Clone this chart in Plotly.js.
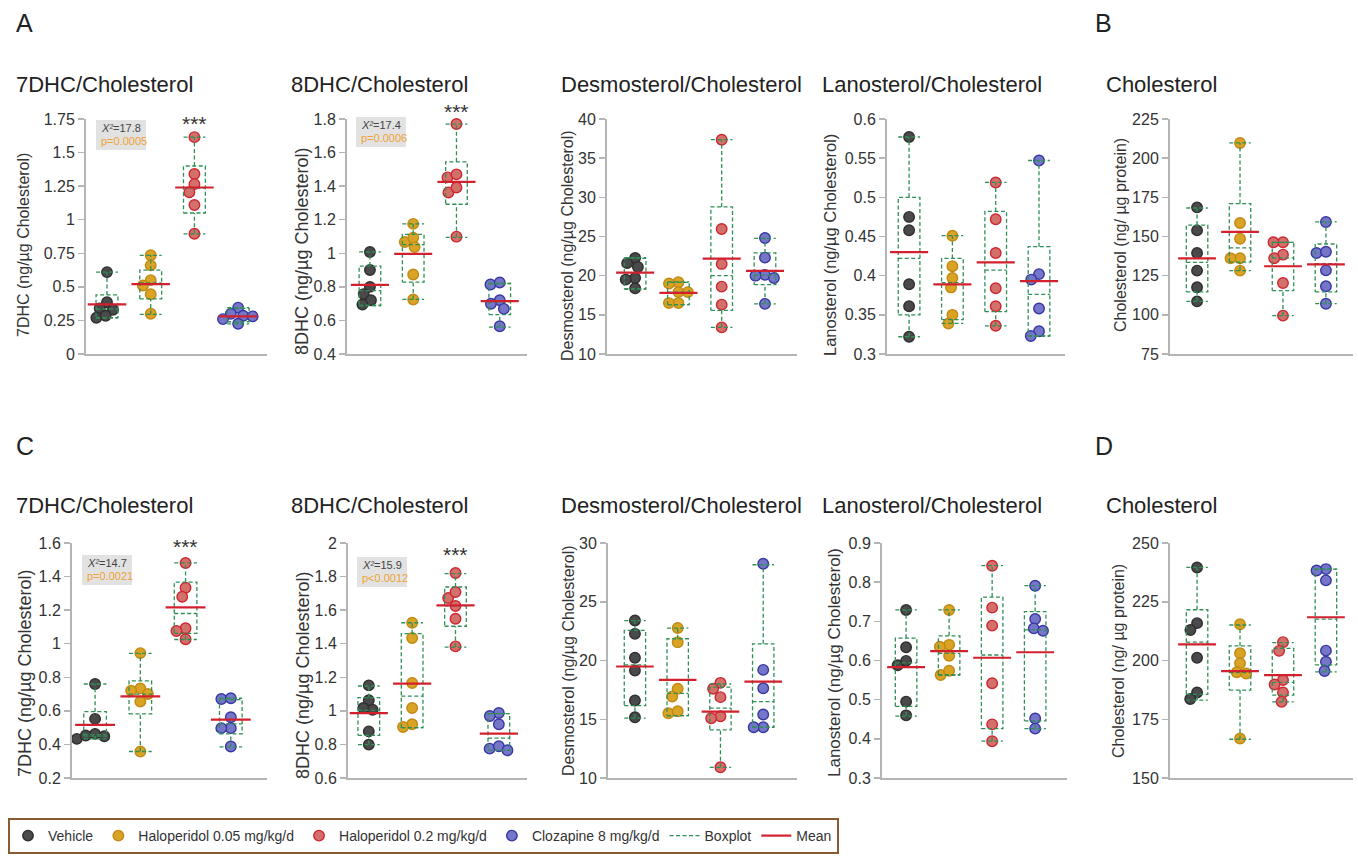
<!DOCTYPE html>
<html><head><meta charset="utf-8">
<script src="https://cdn.plot.ly/plotly-3.0.1.min.js"></script>
<style>html,body{margin:0;padding:0;background:#fff}#chart{width:1358px;height:863px}</style>
</head><body><div id="chart"></div>
<script>
// ---------- categories ----------
const groups = ["Vehicle", "Haloperidol 0.05 mg/kg/d", "Haloperidol 0.2 mg/kg/d", "Clozapine 8 mg/kg/d"];
const panelTitles = ["7DHC/Cholesterol", "8DHC/Cholesterol", "Desmosterol/Cholesterol", "Lanosterol/Cholesterol", "Cholesterol",
                     "7DHC/Cholesterol", "8DHC/Cholesterol", "Desmosterol/Cholesterol", "Lanosterol/Cholesterol", "Cholesterol"];
const yTitles = ["7DHC (ng/µg Cholesterol)", "8DHC (ng/µg Cholesterol)", "Desmosterol (ng/µg Cholesterol)", "Lanosterol (ng/µg Cholesterol)", "Cholesterol (ng/ µg protein)",
                 "7DHC (ng/µg Cholesterol)", "8DHC (ng/µg Cholesterol)", "Desmosterol (ng/µg Cholesterol)", "Lanosterol (ng/µg Cholesterol)", "Cholesterol (ng/ µg protein)"];
const panelLetters = ["A", "B", "C", "D"];
const statChi = ["=17.8", "=17.4", "=14.7", "=15.9"];
const statP = ["p=0.0005", "p=0.0006", "p=0.0021", "p<0.0012"];
const starText = ["***", "***", "***", "***"];

// ---------- panel A: 7DHC ----------
const A1_points = [[0.61, 0.385, 0.33, 0.34, 0.27, 0.285], [0.735, 0.66, 0.55, 0.51, 0.445, 0.30], [1.615, 1.34, 1.265, 1.205, 1.11, 0.895], [0.345, 0.30, 0.285, 0.28, 0.26, 0.225]];
const A1_mean = [0.37, 0.52, 1.24, 0.28];
const A1_q1 = [0.27, 0.41, 1.05, 0.24];
const A1_med = [0.335, 0.53, 1.235, 0.28];
const A1_q3 = [0.44, 0.625, 1.40, 0.34];
const A1_lo = [0.27, 0.295, 0.895, 0.225];
const A1_hi = [0.61, 0.735, 1.615, 0.345];
const A1_ticks = [0, 0.25, 0.5, 0.75, 1, 1.25, 1.5, 1.75];
const A1_labels = ["0", "0.25", "0.5", "0.75", "1", "1.25", "1.5", "1.75"];
// ---------- panel A: 8DHC ----------
const A2_points = [[1.008, 0.90, 0.80, 0.757, 0.72, 0.695], [1.175, 1.067, 1.093, 1.037, 0.874, 0.725], [1.77, 1.452, 1.47, 1.362, 1.392, 1.099], [0.814, 0.826, 0.72, 0.699, 0.669, 0.565]];
const A2_mean = [0.812, 0.997, 1.426, 0.715];
const A2_q1 = [0.689, 0.828, 1.292, 0.635];
const A2_med = [0.778, 1.052, 1.422, 0.71];
const A2_q3 = [0.924, 1.113, 1.545, 0.82];
const A2_lo = [0.689, 0.725, 1.095, 0.56];
const A2_hi = [1.008, 1.175, 1.77, 0.82];
const A2_ticks = [0.4, 0.6, 0.8, 1, 1.2, 1.4, 1.6, 1.8];
const A2_labels = ["0.4", "0.6", "0.8", "1", "1.2", "1.4", "1.6", "1.8"];
// ---------- panel A: Desmosterol ----------
const A3_points = [[22.26, 21.6, 21.1, 19.7, 19.5, 18.4], [19.15, 19.0, 17.9, 17.9, 16.5, 16.5], [37.36, 25.96, 21.5, 18.6, 16.3, 13.4], [24.8, 22.3, 20.1, 20.0, 19.7, 16.4]];
const A3_mean = [20.4, 17.8, 22.17, 20.6];
const A3_q1 = [18.3, 16.3, 15.57, 18.85];
const A3_med = [20.4, 17.9, 20.0, 20.05];
const A3_q3 = [22.2, 19.15, 28.77, 22.9];
const A3_lo = [18.3, 16.3, 13.4, 16.4];
const A3_hi = [22.3, 19.2, 37.36, 24.75];
const A3_ticks = [10, 15, 20, 25, 30, 35, 40];
const A3_labels = ["10", "15", "20", "25", "30", "35", "40"];
// ---------- panel A: Lanosterol ----------
const A4_points = [[0.577, 0.475, 0.458, 0.389, 0.361, 0.322], [0.451, 0.412, 0.397, 0.385, 0.350, 0.339], [0.519, 0.472, 0.429, 0.384, 0.361, 0.336], [0.547, 0.402, 0.395, 0.358, 0.329, 0.323]];
const A4_mean = [0.430, 0.389, 0.417, 0.393];
const A4_q1 = [0.35, 0.344, 0.354, 0.323];
const A4_med = [0.422, 0.391, 0.407, 0.376];
const A4_q3 = [0.50, 0.422, 0.482, 0.437];
const A4_lo = [0.322, 0.339, 0.336, 0.323];
const A4_hi = [0.577, 0.451, 0.519, 0.547];
const A4_ticks = [0.3, 0.35, 0.4, 0.45, 0.5, 0.55, 0.6];
const A4_labels = ["0.3", "0.35", "0.4", "0.45", "0.5", "0.55", "0.6"];
// ---------- panel B: Cholesterol ----------
const A5_points = [[168.6, 153.9, 139.5, 128.2, 117.6, 108.6], [209.7, 158.6, 148.6, 136.1, 136.1, 128.2], [146.3, 146.3, 138.4, 136.1, 120.3, 99.5], [159.3, 139.5, 140.3, 128.4, 118.2, 107.1]];
const A5_mean = [136.1, 152.9, 131.0, 132.2];
const A5_q1 = [114.6, 133.7, 115.4, 114.6];
const A5_med = [133.5, 142.7, 136.3, 132.7];
const A5_q3 = [157.3, 171.0, 146.3, 145.2];
const A5_lo = [108.6, 128.2, 99.5, 107.1];
const A5_hi = [168.2, 209.7, 146.3, 159.3];
const A5_ticks = [75, 100, 125, 150, 175, 200, 225];
const A5_labels = ["75", "100", "125", "150", "175", "200", "225"];
// ---------- panel C: 7DHC ----------
const C1_points = [[0.76, 0.552, 0.463, 0.433, 0.453, 0.449], [0.944, 0.734, 0.72, 0.70, 0.655, 0.358], [1.481, 1.333, 1.28, 1.092, 1.076, 1.027], [0.671, 0.675, 0.562, 0.497, 0.497, 0.388]];
const C1_mean = [0.516, 0.686, 1.216, 0.548];
const C1_q1 = [0.45, 0.582, 1.062, 0.463];
const C1_med = [0.458, 0.70, 1.18, 0.522];
const C1_q3 = [0.595, 0.779, 1.367, 0.667];
const C1_lo = [0.433, 0.358, 1.025, 0.385];
const C1_hi = [0.76, 0.942, 1.481, 0.675];
const C1_ticks = [0.2, 0.4, 0.6, 0.8, 1, 1.2, 1.4, 1.6];
const C1_labels = ["0.2", "0.4", "0.6", "0.8", "1", "1.2", "1.4", "1.6"];
// ---------- panel C: 8DHC ----------
const C2_points = [[1.152, 1.063, 1.007, 1.017, 0.878, 0.799], [1.525, 1.434, 1.166, 1.017, 0.92, 0.904], [1.821, 1.672, 1.708, 1.625, 1.549, 1.384], [0.987, 0.969, 0.92, 0.775, 0.789, 0.765]];
const C2_mean = [0.987, 1.162, 1.629, 0.864];
const C2_q1 = [0.854, 0.90, 1.504, 0.765];
const C2_med = [1.003, 1.088, 1.625, 0.838];
const C2_q3 = [1.079, 1.46, 1.738, 0.983];
const C2_lo = [0.799, 0.90, 1.38, 0.765];
const C2_hi = [1.148, 1.525, 1.817, 0.983];
const C2_ticks = [0.6, 0.8, 1, 1.2, 1.4, 1.6, 1.8, 2];
const C2_labels = ["0.6", "0.8", "1", "1.2", "1.4", "1.6", "1.8", "2"];
// ---------- panel C: Desmosterol ----------
const C3_points = [[23.4, 22.27, 20.23, 19.15, 16.6, 15.17], [22.76, 21.56, 17.59, 16.93, 15.51, 15.68], [18.1, 17.59, 16.88, 15.26, 15.09, 10.91], [28.24, 19.2, 17.64, 15.4, 14.32, 14.32]];
const C3_mean = [19.49, 18.35, 15.65, 18.21];
const C3_q1 = [16.16, 15.31, 14.09, 14.32];
const C3_med = [19.63, 17.2, 15.94, 16.5];
const C3_q3 = [22.56, 21.85, 17.73, 21.42];
const C3_lo = [15.1, 15.31, 10.91, 14.32];
const C3_hi = [23.4, 22.76, 18.0, 28.15];
const C3_ticks = [10, 15, 20, 25, 30];
const C3_labels = ["10", "15", "20", "25", "30"];
// ---------- panel C: Lanosterol ----------
const C4_points = [[0.729, 0.634, 0.588, 0.599, 0.495, 0.46], [0.729, 0.64, 0.635, 0.612, 0.563, 0.574], [0.842, 0.735, 0.689, 0.542, 0.437, 0.394], [0.791, 0.706, 0.682, 0.676, 0.452, 0.426]];
const C4_mean = [0.583, 0.624, 0.607, 0.621];
const C4_q1 = [0.483, 0.563, 0.426, 0.446];
const C4_med = [0.594, 0.618, 0.614, 0.678];
const C4_q3 = [0.657, 0.663, 0.762, 0.725];
const C4_lo = [0.458, 0.563, 0.394, 0.426];
const C4_hi = [0.729, 0.729, 0.842, 0.791];
const C4_ticks = [0.3, 0.4, 0.5, 0.6, 0.7, 0.8, 0.9];
const C4_labels = ["0.3", "0.4", "0.5", "0.6", "0.7", "0.8", "0.9"];
// ---------- panel D: Cholesterol ----------
const C5_points = [[239.6, 215.9, 213.0, 201.2, 186.4, 183.6], [215.4, 203.1, 198.8, 195.0, 194.5, 166.8], [207.8, 204.1, 191.7, 189.8, 186.4, 182.4], [238.9, 238.3, 234.1, 204.2, 199.5, 195.5]];
const C5_mean = [206.9, 195.5, 193.8, 218.4];
const C5_q1 = [185.6, 187.4, 185.3, 198.1];
const C5_med = [207.8, 194.8, 190.7, 217.6];
const C5_q3 = [221.6, 206.2, 205.2, 238.9];
const C5_lo = [183.1, 166.5, 182.4, 195.2];
const C5_hi = [239.6, 215.1, 207.6, 238.9];
const C5_ticks = [150, 175, 200, 225, 250];
const C5_labels = ["150", "175", "200", "225", "250"];

// ---------- layout geometry (pixels) ----------
const W = 1358, H = 863;
const FONT = "Liberation Sans, Arial, Helvetica, sans-serif";
const rowsPx = [[119, 354], [543, 778]];
const xDomPx = [[86, 267], [347, 527], [607, 797], [887, 1065], [1170, 1353],
                [72, 267], [348, 527], [608, 797], [882, 1067], [1170, 1353]];
const xRanges = [[-0.48, 3.66], [-0.53, 3.63], [-0.65, 3.74], [-0.51, 3.6], [-0.63, 3.63],
                 [-0.51, 3.8], [-0.48, 3.65], [-0.63, 3.79], [-0.56, 3.74], [-0.63, 3.63]];
const titlePos = [[14, 85], [289, 85], [559, 85], [820, 85], [1104, 85], [14, 505], [289, 505], [559, 505], [820, 505], [1104, 505]];
const yTitlePos = [[24, 245, 16], [302, 252, 18], [568, 246, 16], [830, 245, 16.5], [1120, 235, 16],
                   [25, 674, 18], [303, 676, 18], [568, 661, 16], [834, 663, 17], [1118, 661, 16]];

const panels = [
  [A1_points, A1_mean, A1_q1, A1_med, A1_q3, A1_lo, A1_hi, A1_ticks, A1_labels],
  [A2_points, A2_mean, A2_q1, A2_med, A2_q3, A2_lo, A2_hi, A2_ticks, A2_labels],
  [A3_points, A3_mean, A3_q1, A3_med, A3_q3, A3_lo, A3_hi, A3_ticks, A3_labels],
  [A4_points, A4_mean, A4_q1, A4_med, A4_q3, A4_lo, A4_hi, A4_ticks, A4_labels],
  [A5_points, A5_mean, A5_q1, A5_med, A5_q3, A5_lo, A5_hi, A5_ticks, A5_labels],
  [C1_points, C1_mean, C1_q1, C1_med, C1_q3, C1_lo, C1_hi, C1_ticks, C1_labels],
  [C2_points, C2_mean, C2_q1, C2_med, C2_q3, C2_lo, C2_hi, C2_ticks, C2_labels],
  [C3_points, C3_mean, C3_q1, C3_med, C3_q3, C3_lo, C3_hi, C3_ticks, C3_labels],
  [C4_points, C4_mean, C4_q1, C4_med, C4_q3, C4_lo, C4_hi, C4_ticks, C4_labels],
  [C5_points, C5_mean, C5_q1, C5_med, C5_q3, C5_lo, C5_hi, C5_ticks, C5_labels]
];

const fillCol = ["#4a4a4a", "#d9a326", "#d2716b", "#7676c9"];
const edgeCol = ["#2f2f2f", "#c08a14", "#cf2630", "#3737a3"];
const boxCol = "#2f8f55";
const meanCol = "#d3202f";
const axisCol = "#b4b4b4";

// simple beeswarm: computed horizontal offsets (pixels) to avoid overlap
function swarm(vals, pxPerY, D) {
  const order = vals.map((v, i) => i).sort((a, b) => vals[b] - vals[a]);
  const placed = [], xs = new Array(vals.length).fill(0);
  for (const i of order) {
    const y = vals[i] * pxPerY;
    const iv = [];
    for (const p of placed) {
      const dy = Math.abs(p.y - y);
      if (dy < D) { const dx = Math.sqrt(D * D - dy * dy); iv.push([p.x - dx, p.x + dx]); }
    }
    const cands = [0];
    iv.forEach(r => cands.push(r[0], r[1]));
    cands.sort((a, b) => Math.abs(a) - Math.abs(b) || a - b);
    let x = 0;
    for (const c of cands) { if (iv.every(r => c <= r[0] + 1e-6 || c >= r[1] - 1e-6)) { x = c; break; } }
    placed.push({ x, y }); xs[i] = x;
  }
  return xs;
}

const traces = [];
const layout = {
  width: W, height: H, margin: { l: 0, r: 0, t: 0, b: 0 },
  paper_bgcolor: "#fff", plot_bgcolor: "rgba(0,0,0,0)",
  font: { family: FONT, color: "#333" },
  showlegend: true, hovermode: false,
  legend: {
    orientation: "h", x: 8 / W, y: 1 - 818 / H, xanchor: "left", yanchor: "top",
    bordercolor: "#8a5a30", borderwidth: 2, bgcolor: "#fff",
    font: { size: 14, color: "#333", family: FONT }, itemwidth: 30, tracegroupgap: 0
  },
  annotations: [], shapes: []
};

panels.forEach((P, k) => {
  const [pts, mean, q1, med, q3, lo, hi, ticks, labels] = P;
  const sfx = k === 0 ? "" : String(k + 1);
  const xa = "x" + sfx, ya = "y" + sfx;
  const row = k < 5 ? 0 : 1;
  const [top, bot] = rowsPx[row];
  const [L, R] = xDomPx[k];
  const xr = xRanges[k];
  const yr = [ticks[0], ticks[ticks.length - 1]];
  const pxPerX = (R - L) / (xr[1] - xr[0]);
  const pxPerY = (bot - top) / (yr[1] - yr[0]);

  layout["xaxis" + sfx] = {
    domain: [L / W, R / W], range: xr, anchor: ya, showline: true, linecolor: axisCol, linewidth: 2,
    showticklabels: false, ticks: "", showgrid: false, zeroline: false, fixedrange: true
  };
  layout["yaxis" + sfx] = {
    domain: [1 - bot / H, 1 - top / H], range: yr, anchor: xa, showline: true, linecolor: axisCol, linewidth: 2,
    tickmode: "array", tickvals: ticks, ticktext: labels, ticks: "outside", ticklen: 6, tickwidth: 1.5, tickcolor: axisCol,
    tickfont: { size: 16, color: "#333", family: FONT }, showgrid: false, zeroline: false, fixedrange: true
  };

  // points
  pts.forEach((vals, g) => {
    const off = swarm(vals, pxPerY, 9.5);
    traces.push({
      type: "scatter", mode: "markers", xaxis: xa, yaxis: ya, name: groups[g], legendrank: g + 1,
      showlegend: k === 0, legendgroup: "g" + g,
      x: vals.map((v, i) => g + off[i] / pxPerX), y: vals,
      marker: { size: 10.5, color: fillCol[g], line: { color: edgeCol[g], width: 1.4 } },
      cliponaxis: false
    });
  });

  // boxes (dashed)
  const bx = [], by = [], w = 0.25;
  for (let g = 0; g < 4; g++) {
    bx.push(g - w, g + w, g + w, g - w, g - w, null); by.push(q1[g], q1[g], q3[g], q3[g], q1[g], null);
    bx.push(g - w, g + w, null); by.push(med[g], med[g], null);
    bx.push(g, g, null); by.push(q3[g], hi[g], null);
    bx.push(g - w, g + w, null); by.push(hi[g], hi[g], null);
    bx.push(g, g, null); by.push(lo[g], q1[g], null);
    bx.push(g - w, g + w, null); by.push(lo[g], lo[g], null);
  }
  traces.push({
    type: "scatter", mode: "lines", xaxis: xa, yaxis: ya, name: "Boxplot", legendrank: 5, showlegend: k === 0,
    x: bx, y: by, line: { color: boxCol, width: 1.3, dash: "4px,2.5px" }, connectgaps: false
  });

  // means
  const mx = [], my = [];
  mean.forEach((m, g) => { mx.push(g - 0.44, g + 0.44, null); my.push(m, m, null); });
  traces.push({
    type: "scatter", mode: "lines", xaxis: xa, yaxis: ya, name: "Mean", legendrank: 6, showlegend: k === 0,
    x: mx, y: my, line: { color: meanCol, width: 2.2 }, connectgaps: false
  });

  // panel title
  layout.annotations.push({
    xref: "paper", yref: "paper", x: titlePos[k][0] / W, y: 1 - titlePos[k][1] / H, xanchor: "left", yanchor: "middle",
    text: panelTitles[k], showarrow: false, font: { size: 22, color: "#222", family: FONT }
  });
  // y axis title
  layout.annotations.push({
    xref: "paper", yref: "paper", x: yTitlePos[k][0] / W, y: 1 - yTitlePos[k][1] / H, xanchor: "center", yanchor: "middle",
    text: yTitles[k], textangle: -90, showarrow: false, font: { size: yTitlePos[k][2], color: "#333", family: FONT }
  });
});

// panel letters
[[14, 23], [1093, 23], [14, 446], [1093, 446]].forEach((p, i) => {
  layout.annotations.push({
    xref: "paper", yref: "paper", x: p[0] / W, y: 1 - p[1] / H, xanchor: "left", yanchor: "middle",
    text: panelLetters[i], showarrow: false, font: { size: 25, color: "#222", family: FONT }
  });
});

// statistics boxes (grey background shape + text) and significance stars
const statBoxPx = [[96, 120], [356, 117], [82, 555], [357, 557]];
const statAxes = ["", "2", "6", "7"];
const starPxY = [124, 112, 546, 554];
statBoxPx.forEach((p, i) => {
  const [bx0, by0] = p;
  layout.shapes.push({
    type: "rect", xref: "paper", yref: "paper", layer: "below",
    x0: bx0 / W, x1: (bx0 + 50) / W, y0: 1 - by0 / H, y1: 1 - (by0 + 30) / H,
    fillcolor: "#e2e2e2", line: { width: 0 }
  });
  layout.annotations.push({
    xref: "paper", yref: "paper", x: (bx0 + 3) / W, y: 1 - (by0 + 8) / H, xanchor: "left", yanchor: "middle",
    text: "X²", showarrow: false, font: { size: 11, color: "#444", family: FONT, style: "italic" }
  });
  layout.annotations.push({
    xref: "paper", yref: "paper", x: (bx0 + 15) / W, y: 1 - (by0 + 8) / H, xanchor: "left", yanchor: "middle",
    text: statChi[i], showarrow: false, font: { size: 11, color: "#444", family: FONT }
  });
  layout.annotations.push({
    xref: "paper", yref: "paper", x: (bx0 + 3) / W, y: 1 - (by0 + 21) / H, xanchor: "left", yanchor: "middle",
    text: statP[i], showarrow: false, font: { size: 11, color: "#f0a233", family: FONT }
  });
  layout.annotations.push({
    xref: "x" + statAxes[i], yref: "paper", x: 2, y: 1 - starPxY[i] / H, xanchor: "center", yanchor: "middle",
    text: starText[i], showarrow: false, font: { size: 21, color: "#333", family: FONT }
  });
});

Plotly.newPlot("chart", traces, layout, { staticPlot: true, displayModeBar: false });
</script>
</body></html>
